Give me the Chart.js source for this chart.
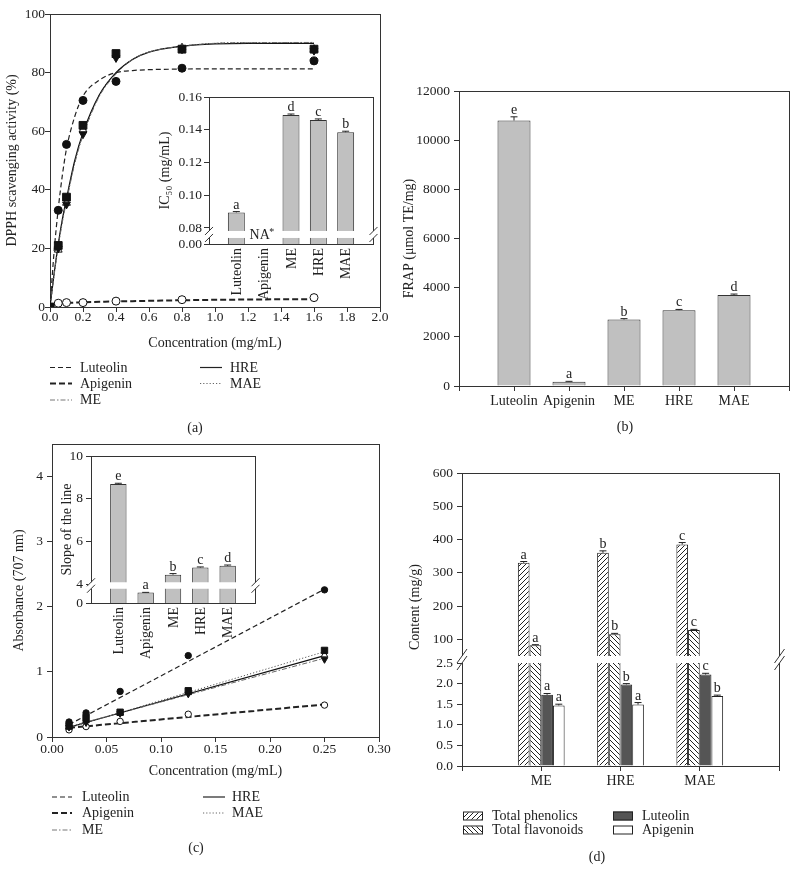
<!DOCTYPE html>
<html><head><meta charset="utf-8"><title>Antioxidant activity and content</title>
<script src="https://cdn.jsdelivr.net/npm/chart.js@4.4.1/dist/chart.umd.min.js"></script>
<style>
html,body{margin:0;padding:0;background:#fff}
body{position:relative;width:798px;height:870px;overflow:hidden;font-family:"Liberation Serif","Times New Roman",serif;color:#222}
canvas{position:absolute}
.t{position:absolute;font-size:14px;line-height:1;white-space:nowrap;transform:translateY(-50%)}
.c{position:absolute;font-size:14px;line-height:1;white-space:nowrap;transform:translate(-50%,-50%)}
.r{position:absolute;font-size:14px;line-height:1;white-space:nowrap;transform:translate(-50%,-50%) rotate(-90deg)}
.box{position:absolute;width:20px;height:9px;border:1px solid #222;box-sizing:border-box;transform:translateY(-50%)}
svg{position:absolute;left:0;top:0}
</style></head><body>
<canvas id="ca" width="400" height="356" style="left:0px;top:0px"></canvas>
<canvas id="cai" width="228" height="219" style="left:150px;top:85px"></canvas>
<canvas id="cb" width="398" height="336" style="left:400px;top:80px"></canvas>
<canvas id="cc" width="400" height="352" style="left:0px;top:432px"></canvas>
<canvas id="cci" width="205" height="220" style="left:55px;top:444px"></canvas>
<canvas id="cdu" width="398" height="196" style="left:400px;top:460px"></canvas>
<canvas id="cdl" width="398" height="170" style="left:400px;top:640px"></canvas>

<svg width="798" height="870">
  <g fill="none" stroke="#222">
    <line x1="50" y1="367.5" x2="72" y2="367.5" stroke-width="1.2" stroke-dasharray="5 3"/>
    <line x1="50" y1="383.5" x2="72" y2="383.5" stroke-width="2.2" stroke-dasharray="6 3"/>
    <line x1="50" y1="400" x2="72" y2="400" stroke-width="1" stroke="#777" stroke-dasharray="5 2 1.5 2"/>
    <line x1="200" y1="367.5" x2="222" y2="367.5" stroke-width="1.2"/>
    <line x1="200" y1="383.5" x2="222" y2="383.5" stroke-width="1" stroke="#666" stroke-dasharray="1.2 2"/>
    <line x1="52" y1="797" x2="72" y2="797" stroke-width="1.2" stroke-dasharray="5 3"/>
    <line x1="52" y1="813" x2="72" y2="813" stroke-width="2.2" stroke-dasharray="6 3"/>
    <line x1="52" y1="830" x2="72" y2="830" stroke-width="1" stroke="#777" stroke-dasharray="5 2 1.5 2"/>
    <line x1="203" y1="797" x2="225" y2="797" stroke-width="1.2"/>
    <line x1="203" y1="813" x2="225" y2="813" stroke-width="1" stroke="#666" stroke-dasharray="1.2 2"/>
  </g>
</svg>

<div class="t" style="left:80px;top:367.5px">Luteolin</div>
<div class="t" style="left:80px;top:383.5px">Apigenin</div>
<div class="t" style="left:80px;top:400px">ME</div>
<div class="t" style="left:230px;top:367.5px">HRE</div>
<div class="t" style="left:230px;top:383.5px">MAE</div>
<div class="c" style="left:195px;top:428px">(a)</div>
<div class="c" style="left:625px;top:427px">(b)</div>

<div class="t" style="left:82px;top:797px">Luteolin</div>
<div class="t" style="left:82px;top:813px">Apigenin</div>
<div class="t" style="left:82px;top:830px">ME</div>
<div class="t" style="left:232px;top:797px">HRE</div>
<div class="t" style="left:232px;top:813px">MAE</div>
<div class="c" style="left:196px;top:848px">(c)</div>

<div class="r" style="left:415px;top:607px">Content (mg/g)</div>
<div class="box" style="left:463px;top:816px;background:repeating-linear-gradient(135deg,#fff 0 2.6px,#222 2.6px 3.6px)"></div>
<div class="box" style="left:463px;top:830px;background:repeating-linear-gradient(45deg,#fff 0 2.6px,#222 2.6px 3.6px)"></div>
<div class="box" style="left:613px;top:816px;background:#555"></div>
<div class="box" style="left:613px;top:830px;background:#fff"></div>
<div class="t" style="left:492px;top:816px">Total phenolics</div>
<div class="t" style="left:492px;top:830px">Total flavonoids</div>
<div class="t" style="left:642px;top:816px">Luteolin</div>
<div class="t" style="left:642px;top:830px">Apigenin</div>
<div class="c" style="left:597px;top:857px">(d)</div>

<script>
// ---------- Panel (a): DPPH scavenging ----------
const dpphConc = [0, 0.05, 0.1, 0.2, 0.4, 0.8, 1.6];
const dpphLuteolin = [0, 33, 55.5, 70.5, 77, 81.5, 84];
const dpphApigenin = [0, 1.3, 1.5, 1.5, 2, 2.5, 3.2];
const dpphME = [0, 20, 35, 59, 85, 88, 87.5];
const dpphHRE = [0, 19.5, 35.5, 60.5, 86, 88.5, 88];
const dpphMAE = [0, 21, 37.5, 62, 86.5, 88, 88];
const dpphFitConc = [0, 0.025, 0.05, 0.075, 0.1, 0.15, 0.2, 0.3, 0.4, 0.5, 0.6, 0.8, 1.0, 1.2, 1.6];
const dpphFitLuteolin = [0, 19, 33.5, 45, 54, 65, 72, 77.5, 80, 80.7, 81, 81.2, 81.3, 81.3, 81.3];
const dpphFitApigenin = [0, 0.8, 1.2, 1.3, 1.4, 1.5, 1.6, 1.75, 1.9, 2.0, 2.1, 2.3, 2.45, 2.55, 2.7];
const dpphFitME = [0, 11, 20.5, 29, 36, 49, 58.5, 72, 79.5, 84.5, 87, 89, 90, 90.2, 90.3];
const dpphFitHRE = [0, 11.5, 21.5, 30, 37, 50, 59.5, 72.5, 80, 84.5, 87, 89, 89.8, 90, 90];
const dpphFitMAE = [0, 11, 21, 29.5, 36.5, 49.5, 59, 72.5, 80, 84.5, 87, 89, 90, 90.2, 90.2];
const dpphXTicks = [0, 0.2, 0.4, 0.6, 0.8, 1.0, 1.2, 1.4, 1.6, 1.8, 2.0];
const dpphYTicks = [0, 20, 40, 60, 80, 100];

// inset (a): IC50
const sampleNames = ['Luteolin', 'Apigenin', 'ME', 'HRE', 'MAE'];
const ic50 = [0.0895, null, 0.149, 0.146, 0.1385];
const ic50Err = [0.0005, null, 0.0006, 0.0006, 0.0006];
const ic50Letters = ['a', '', 'd', 'c', 'b'];
const ic50Ticks = [0, 0.08, 0.10, 0.12, 0.14, 0.16];

// ---------- Panel (b): FRAP ----------
const frap = [10800, 175, 2705, 3085, 3705];
const frapErr = [150, 15, 35, 30, 35];
const frapLetters = ['e', 'a', 'b', 'c', 'd'];
const frapTicks = [0, 2000, 4000, 6000, 8000, 10000, 12000];

// ---------- Panel (c): reducing power ----------
const absConc = [0.015625, 0.03125, 0.0625, 0.125, 0.25];
const absLuteolin = [0.23, 0.37, 0.70, 1.25, 2.26];
const absApigenin = [0.11, 0.16, 0.24, 0.35, 0.49];
const absME = [0.15, 0.22, 0.36, 0.66, 1.19];
const absHRE = [0.15, 0.25, 0.37, 0.68, 1.26];
const absMAE = [0.17, 0.30, 0.38, 0.71, 1.33];
const absFitConc = [0.015625, 0.25];
const absFitLuteolin = [0.19, 2.27];
const absFitApigenin = [0.14, 0.50];
const absFitME = [0.16, 1.21];
const absFitHRE = [0.15, 1.25];
const absFitMAE = [0.14, 1.31];
const absXTicks = [0, 0.05, 0.10, 0.15, 0.20, 0.25, 0.30];
const absYTicks = [0, 1, 2, 3, 4];

// inset (c): slope
const slope = [8.70, 2.3, 4.47, 4.80, 4.88];
const slopeErr = [0.03, 0.03, 0.05, 0.03, 0.04];
const slopeLetters = ['e', 'a', 'b', 'c', 'd'];
const slopeTicks = [0, 4, 6, 8, 10];

// ---------- Panel (d): content ----------
const extractNames = ['ME', 'HRE', 'MAE'];
const phenolics = [330, 360, 385];
const phenolicsErr = [4, 6, 6];
const phenolicsLetters = ['a', 'b', 'c'];
const flavonoids = [82, 115, 128];
const flavonoidsErr = [2, 3, 2];
const flavonoidsLetters = ['a', 'b', 'c'];
const luteolinContent = [1.73, 1.98, 2.22];
const luteolinErr = [0.03, 0.02, 0.03];
const luteolinLetters = ['a', 'b', 'c'];
const apigeninContent = [1.47, 1.49, 1.70];
const apigeninErr = [0.03, 0.05, 0.02];
const apigeninLetters = ['a', 'a', 'b'];
const contentUpperTicks = [100, 200, 300, 400, 500, 600];
const contentLowerTicks = [0, 0.5, 1.0, 1.5, 2.0, 2.5];

// ---------- helpers ----------
const FONT = '"Liberation Serif","Times New Roman",serif';
const AXIS = '#333';
Chart.defaults.font.family = FONT;
Chart.defaults.font.size = 13.5;
Chart.defaults.color = '#222';
Chart.defaults.animation = false;
Chart.defaults.responsive = false;
Chart.defaults.maintainAspectRatio = false;
Chart.defaults.events = [];
Chart.defaults.plugins.legend.display = false;
Chart.defaults.plugins.tooltip.enabled = false;

// broken-axis transforms (lower segment compressed)
const tfA = v => v >= 0.08 ? v : 0.0702 + v / 0.08 * (0.08 - 0.0702);
const tfC = v => v >= 4 ? v : 3.15 + v / 4 * (4 - 3.15);
const TF = { cai: tfA, cci: tfC };
const BRK = { cai: { at: 0.08, dy1: 3, dy2: 10 }, cci: { at: 4, dy1: -2.5, dy2: 4 } };
const NOTOP = { cdl: true };
const MARKS = { cdl: true };
const VLABELS = { cai: 4, cci: 4 };

const padL = a => ['', ...a, ''];
const padN = a => [null, ...a, null];
const pts = (xs, ys) => xs.map((x, i) => ({ x, y: ys[i] }));

function yLin(o) {
  const tf = o.tf || (v => v);
  return {
    type: 'linear', min: o.min, max: o.max,
    afterFit(s) { s.width = o.width; s.paddingTop = 0; s.paddingBottom = 0; },
    afterBuildTicks(s) { s.ticks = o.ticks.map(v => ({ value: tf(v) })); },
    ticks: { autoSkip: false, padding: o.pad, callback: (v, i) => o.fmt(o.ticks[i]), font: { size: 13.5 } },
    grid: { drawOnChartArea: false, drawTicks: true, tickLength: 5, color: AXIS },
    border: { display: true, color: AXIS, width: 1 },
    title: { display: !!o.title, text: o.title || '', font: { size: 14 }, color: '#222', padding: { top: o.tpad || 0, bottom: 0 } }
  };
}
function xLin(o) {
  return {
    type: 'linear', min: o.min, max: o.max,
    afterFit(s) { s.height = o.height; s.paddingLeft = 0; s.paddingRight = 0; },
    afterBuildTicks(s) { s.ticks = o.ticks.map(v => ({ value: v })); },
    ticks: { autoSkip: false, maxRotation: 0, padding: o.pad, callback: (v, i) => o.fmt(o.ticks[i]), font: { size: 13.5 } },
    grid: { drawOnChartArea: false, drawTicks: true, tickLength: 5, color: AXIS },
    border: { display: true, color: AXIS, width: 1 },
    title: { display: true, text: o.title, font: { size: 14 }, color: '#222', padding: { top: 0, bottom: o.pb } }
  };
}
function xCat(o) {
  return {
    type: 'category', offset: false, display: o.display !== false,
    afterFit(s) { s.height = o.height; s.paddingLeft = 0; s.paddingRight = 0; },
    ticks: { display: o.labels !== false, autoSkip: false, padding: o.pad, maxRotation: 0, minRotation: 0, font: { size: 14 } },
    grid: { drawOnChartArea: false, offset: false, drawTicks: o.labels !== false, tickLength: 5, color: AXIS },
    border: { display: true, color: AXIS, width: 1 }
  };
}

const deco = {
  id: 'deco',
  beforeDatasetsDraw(chart) {
    const { ctx, chartArea: a } = chart, id = chart.canvas.id;
    ctx.save(); ctx.strokeStyle = AXIS; ctx.lineWidth = 1; ctx.beginPath();
    if (!NOTOP[id]) { ctx.moveTo(a.left, a.top + 0.5); ctx.lineTo(a.right + 0.5, a.top + 0.5); }
    ctx.moveTo(a.right + 0.5, a.top); ctx.lineTo(a.right + 0.5, a.bottom);
    ctx.stroke(); ctx.restore();
  },
  afterDatasetsDraw(chart) {
    const { ctx, chartArea: a } = chart, id = chart.canvas.id, ys = chart.scales.y;
    const tf = TF[id] || (v => v);
    const inRange = v => tf(v) >= ys.min && tf(v) <= ys.max;
    const tops = [];
    ctx.save();
    chart.data.datasets.forEach((ds, di) => {
      if (!ds.orig) return;
      const meta = chart.getDatasetMeta(di);
      meta.data.forEach((el, i) => {
        const v = ds.orig[i];
        if (v == null || !inRange(v)) return;
        let top = el.y;
        const e = ds.err ? ds.err[i] : null;
        if (e) {
          top = ys.getPixelForValue(tf(v + e));
          ctx.strokeStyle = '#222'; ctx.lineWidth = 1; ctx.beginPath();
          ctx.moveTo(el.x, el.y); ctx.lineTo(el.x, top);
          ctx.moveTo(el.x - 3.5, top); ctx.lineTo(el.x + 3.5, top); ctx.stroke();
        }
        if (ds.letters && ds.letters[i]) tops.push([el.x, top, ds.letters[i]]);
      });
    });
    const b = BRK[id];
    if (b) {
      const p = ys.getPixelForValue(tf(b.at));
      const y0 = p + b.dy1, y1 = p + b.dy2;
      ctx.fillStyle = '#fff';
      ctx.fillRect(a.left - 3, y0, a.right - a.left + 7, y1 - y0);
      ctx.strokeStyle = AXIS; ctx.lineWidth = 1;
      [a.left, a.right + 0.5].forEach(x => [y0, y1].forEach(y => {
        ctx.beginPath(); ctx.moveTo(x - 4, y + 4); ctx.lineTo(x + 4, y - 4); ctx.stroke();
      }));
      if (id === 'cai') {
        const xa = chart.scales.x.getPixelForValue(2);
        const yc = (y0 + y1) / 2;
        ctx.fillStyle = '#222'; ctx.textAlign = 'center'; ctx.textBaseline = 'middle';
        ctx.font = '14px ' + FONT; ctx.fillText('NA', xa - 4, yc + 1);
        ctx.font = '10px ' + FONT; ctx.fillText('*', xa + 8, yc - 2);
      }
    }
    if (MARKS[id]) {
      ctx.strokeStyle = AXIS; ctx.lineWidth = 1;
      [a.left, a.right + 0.5].forEach(x => [a.top - 7, a.top].forEach(y => {
        ctx.beginPath(); ctx.moveTo(x - 5, y + 7); ctx.lineTo(x + 5, y - 7); ctx.stroke();
      }));
    }
    ctx.fillStyle = '#222'; ctx.font = '14px ' + FONT; ctx.textAlign = 'center'; ctx.textBaseline = 'alphabetic';
    tops.forEach(([x, y, t]) => ctx.fillText(t, x, y - 3));
    // vertical category labels for the insets
    if (VLABELS[id] != null) {
      const xs = chart.scales.x;
      ctx.font = '14px ' + FONT; ctx.textAlign = 'right'; ctx.textBaseline = 'middle';
      chart.data.labels.forEach((lab, i) => {
        if (!lab) return;
        ctx.save();
        ctx.translate(xs.getPixelForValue(i) + 1, a.bottom + VLABELS[id]);
        ctx.rotate(-Math.PI / 2);
        ctx.fillText(lab, 0, 0);
        ctx.restore();
      });
    }
    ctx.restore();
  }
};

function hatch(ctx, dir) {
  const c = document.createElement('canvas'); c.width = 5; c.height = 5;
  const g = c.getContext('2d');
  g.fillStyle = '#fff'; g.fillRect(0, 0, 5, 5);
  g.strokeStyle = '#222'; g.lineWidth = 1; g.beginPath();
  if (dir > 0) { g.moveTo(-1, 6); g.lineTo(6, -1); g.moveTo(-1, 1); g.lineTo(1, -1); g.moveTo(4, 6); g.lineTo(6, 4); }
  else { g.moveTo(-1, -1); g.lineTo(6, 6); g.moveTo(-1, 4); g.lineTo(1, 6); g.moveTo(4, -1); g.lineTo(6, 1); }
  g.stroke();
  return ctx.createPattern(c, 'repeat');
}

const fitDs = (xs, ys, dash, w, color) => ({ data: pts(xs, ys), showLine: true, pointRadius: 0, borderColor: color, borderWidth: w, borderDash: dash, cubicInterpolationMode: 'monotone', fill: false });
const markDs = (xs, ys, style, filled, r, rot) => ({ data: pts(xs, ys), showLine: false, pointStyle: style, pointRadius: r, pointRotation: rot || 0, backgroundColor: filled ? '#111' : '#fff', borderColor: '#111', borderWidth: 1 });

// ---------- chart (a) ----------
new Chart(document.getElementById('ca'), {
  type: 'scatter',
  data: { datasets: [
    markDs(dpphConc, dpphLuteolin, 'circle', true, 4),
    markDs(dpphConc, dpphMAE, 'rect', true, 5.5),
    markDs(dpphConc, dpphME, 'triangle', true, 4.5, 180),
    markDs(dpphConc, dpphHRE, 'triangle', false, 4.5),
    markDs(dpphConc, dpphApigenin, 'circle', false, 4),
    fitDs(dpphFitConc, dpphFitLuteolin, [5, 3], 1.2, '#222'),
    fitDs(dpphFitConc, dpphFitApigenin, [6, 3], 2, '#222'),
    fitDs(dpphFitConc, dpphFitME, [5, 2, 1.5, 2], 1, '#666'),
    fitDs(dpphFitConc, dpphFitHRE, [], 1.2, '#111'),
    fitDs(dpphFitConc, dpphFitMAE, [1.2, 2], 1, '#555')
  ] },
  options: {
    devicePixelRatio: 1,
    layout: { padding: { left: 0, top: 14, right: 20, bottom: 0 } },
    scales: {
      x: xLin({ min: 0, max: 2, ticks: dpphXTicks, fmt: v => v.toFixed(1), height: 49, title: 'Concentration (mg/mL)', pb: 4, pad: -3 }),
      y: yLin({ min: 0, max: 100, ticks: dpphYTicks, fmt: v => String(v), width: 50, title: 'DPPH scavenging activity (%)', tpad: 4, pad: 0 })
    }
  },
  plugins: [deco]
});

// ---------- inset (a) ----------
new Chart(document.getElementById('cai'), {
  type: 'bar',
  data: { labels: padL(sampleNames), datasets: [{
    data: padN(ic50).map(v => v == null ? null : tfA(v)), orig: padN(ic50), err: padN(ic50Err), letters: padL(ic50Letters),
    backgroundColor: '#c0c0c0', borderColor: '#333', borderWidth: 1, barPercentage: 0.62, categoryPercentage: 1, clip: 0
  }] },
  options: {
    devicePixelRatio: 1,
    layout: { padding: { left: 0, top: 12, right: 5, bottom: 0 } },
    scales: {
      x: xCat({ height: 60, pad: 0, labels: false }),
      y: yLin({ min: 0.0702, max: 0.16, ticks: ic50Ticks, tf: tfA, fmt: v => v.toFixed(2), width: 59, title: 'IC\u2085\u2080 (mg/mL)', tpad: 6.6, pad: 2 })
    }
  },
  plugins: [deco]
});

// ---------- chart (b) ----------
new Chart(document.getElementById('cb'), {
  type: 'bar',
  data: { labels: padL(sampleNames), datasets: [{
    data: padN(frap), orig: padN(frap), err: padN(frapErr), letters: padL(frapLetters),
    backgroundColor: '#c0c0c0', borderColor: '#333', borderWidth: 1, barPercentage: 0.6, categoryPercentage: 1, clip: 0
  }] },
  options: {
    devicePixelRatio: 1,
    layout: { padding: { left: 0, top: 11, right: 9, bottom: 0 } },
    scales: {
      x: xCat({ height: 30, pad: 2 }),
      y: yLin({ min: 0, max: 12000, ticks: frapTicks, fmt: v => String(v), width: 59, title: 'FRAP (\u03bcmol TE/mg)', tpad: 1, pad: 4 })
    }
  },
  plugins: [deco]
});

// ---------- chart (c) ----------
new Chart(document.getElementById('cc'), {
  type: 'scatter',
  data: { datasets: [
    markDs(absConc, absLuteolin, 'circle', true, 3.2),
    markDs(absConc, absMAE, 'rect', true, 4.5),
    markDs(absConc, absME, 'triangle', true, 3.8, 180),
    markDs(absConc, absHRE, 'triangle', false, 3.8),
    markDs(absConc, absApigenin, 'circle', false, 3.2),
    fitDs(absFitConc, absFitLuteolin, [5, 3], 1.2, '#222'),
    fitDs(absFitConc, absFitApigenin, [6, 3], 2, '#222'),
    fitDs(absFitConc, absFitME, [5, 2, 1.5, 2], 1, '#666'),
    fitDs(absFitConc, absFitHRE, [], 1.2, '#111'),
    fitDs(absFitConc, absFitMAE, [1.2, 2], 1, '#555')
  ] },
  options: {
    devicePixelRatio: 1,
    layout: { padding: { left: 0, top: 12, right: 21, bottom: 0 } },
    scales: {
      x: xLin({ min: 0, max: 0.3, ticks: absXTicks, fmt: v => v.toFixed(2), height: 47, title: 'Concentration (mg/mL)', pb: 4, pad: -1 }),
      y: yLin({ min: 0, max: 4.5, ticks: absYTicks, fmt: v => String(v), width: 52, title: 'Absorbance (707 nm)', tpad: 10.6, pad: 4 })
    }
  },
  plugins: [deco]
});

// ---------- inset (c) ----------
new Chart(document.getElementById('cci'), {
  type: 'bar',
  data: { labels: padL(sampleNames), datasets: [{
    data: padN(slope).map(v => v == null ? null : tfC(v)), orig: padN(slope), err: padN(slopeErr), letters: padL(slopeLetters),
    backgroundColor: '#c0c0c0', borderColor: '#333', borderWidth: 1, barPercentage: 0.6, categoryPercentage: 1, clip: 0
  }] },
  options: {
    devicePixelRatio: 1,
    layout: { padding: { left: 0, top: 12, right: 5, bottom: 0 } },
    scales: {
      x: xCat({ height: 61, pad: 0, labels: false }),
      y: yLin({ min: 3.15, max: 10, ticks: slopeTicks, tf: tfC, fmt: v => String(v), width: 36, title: 'Slope of the line', tpad: 3.6, pad: 3 })
    }
  },
  plugins: [deco]
});

// ---------- chart (d): upper and lower segments ----------
function contentDatasets(ctx) {
  const common = { borderColor: '#222', borderWidth: 1, barPercentage: 1, categoryPercentage: 0.59, clip: 0 };
  return [
    Object.assign({ label: 'Total phenolics', data: padN(phenolics), orig: padN(phenolics), err: padN(phenolicsErr), letters: padL(phenolicsLetters), backgroundColor: hatch(ctx, 1) }, common),
    Object.assign({ label: 'Total flavonoids', data: padN(flavonoids), orig: padN(flavonoids), err: padN(flavonoidsErr), letters: padL(flavonoidsLetters), backgroundColor: hatch(ctx, -1) }, common),
    Object.assign({ label: 'Luteolin', data: padN(luteolinContent), orig: padN(luteolinContent), err: padN(luteolinErr), letters: padL(luteolinLetters), backgroundColor: '#555' }, common),
    Object.assign({ label: 'Apigenin', data: padN(apigeninContent), orig: padN(apigeninContent), err: padN(apigeninErr), letters: padL(apigeninLetters), backgroundColor: '#fff' }, common)
  ];
}
const cdu = document.getElementById('cdu');
new Chart(cdu, {
  type: 'bar',
  data: { labels: padL(extractNames), datasets: contentDatasets(cdu.getContext('2d')) },
  options: {
    devicePixelRatio: 1,
    layout: { padding: { left: 0, top: 13, right: 19, bottom: 0 } },
    scales: {
      x: xCat({ height: 0, pad: 0, display: false }),
      y: yLin({ min: 50, max: 600, ticks: contentUpperTicks, fmt: v => String(v), width: 62, pad: 4 })
    }
  },
  plugins: [deco]
});
const cdl = document.getElementById('cdl');
new Chart(cdl, {
  type: 'bar',
  data: { labels: padL(extractNames), datasets: contentDatasets(cdl.getContext('2d')) },
  options: {
    devicePixelRatio: 1,
    layout: { padding: { left: 0, top: 23, right: 19, bottom: 0 } },
    scales: {
      x: xCat({ height: 44, pad: 2 }),
      y: yLin({ min: 0, max: 2.5, ticks: contentLowerTicks, fmt: v => v.toFixed(1), width: 62, pad: 4 })
    }
  },
  plugins: [deco]
});
</script>
</body></html>
